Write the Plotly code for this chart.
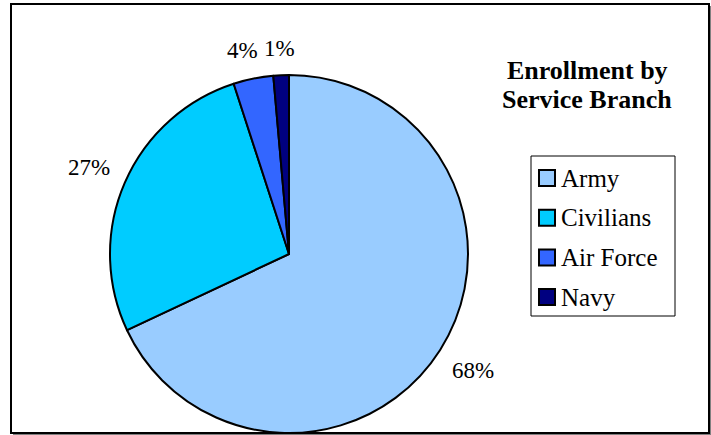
import math
import plotly.graph_objects as go

labels = ["Army", "Civilians", "Air Force", "Navy"]
values = [68.0, 27.0, 3.6, 1.4]
colors = ["#99CCFF", "#00CCFF", "#3366FF", "#000080"]
title_lines = ["Enrollment by", "Service Branch"]

W, H = 711, 435
FONT = "Liberation Serif, Times New Roman, serif"
CX, CY, R = 289, 254, 179
LBL_SIZE = 23

fig = go.Figure(go.Pie(
    labels=labels, values=values, sort=False, direction="clockwise", rotation=0,
    marker=dict(colors=colors, line=dict(color="black", width=2)),
    textinfo="none",
    domain=dict(x=[(CX - R) / W, (CX + R) / W], y=[1 - (CY + R) / H, 1 - (CY - R) / H]),
    showlegend=False, hoverinfo="label+percent",
))

shapes = [
    dict(type="rect", xref="paper", yref="paper", x0=13 / W, x1=711 / W, y0=1 - 435 / H, y1=1 - 6 / H,
         line=dict(width=0), fillcolor="#808080", layer="below"),
    dict(type="rect", xref="paper", yref="paper", x0=11 / W, x1=709 / W, y0=1 - 433 / H, y1=1 - 4 / H,
         line=dict(color="black", width=2), fillcolor="white", layer="below"),
    dict(type="rect", xref="paper", yref="paper", x0=531 / W, x1=675 / W, y0=1 - 316 / H, y1=1 - 156 / H,
         line=dict(color="black", width=1), fillcolor="white", layer="below"),
]
annotations = []
for i, line in enumerate(title_lines):
    annotations.append(dict(text="<b>" + line + "</b>", xref="paper", yref="paper",
                            x=587 / W, y=1 - (70 + i * 29) / H, showarrow=False,
                            xanchor="center", yanchor="middle",
                            font=dict(family=FONT, size=26, color="black")))

# percent labels placed just outside each slice at its mid-angle
total = sum(values)
cum = 0.0
placed = []
for v in values:
    mid = (cum + v / 2) / total * 2 * math.pi
    cum += v
    txt = f"{round(v / total * 100)}%"
    hw = LBL_SIZE * (0.5 * (len(txt) - 1) + 0.833) / 2
    hh = LBL_SIZE * 0.48
    d = R + 15 + abs(math.sin(mid)) * hw + abs(math.cos(mid)) * hh
    px = CX + d * math.sin(mid)
    py = CY - d * math.cos(mid)
    placed.append([txt, px, py, hw])
# resolve horizontal overlaps between neighbouring labels
for i in range(len(placed) - 1, 0, -1):
    a, b = placed[i - 1], placed[i]
    if abs(a[2] - b[2]) < 2 * LBL_SIZE * 0.48:
        right_a = a[1] + a[3]
        left_b = b[1] - b[3]
        if right_a > left_b - 7:
            a[1] -= right_a - (left_b - 7)
for txt, px, py, hw in placed:
    annotations.append(dict(text=txt, xref="paper", yref="paper",
                            x=px / W, y=1 - py / H, showarrow=False,
                            xanchor="center", yanchor="middle",
                            font=dict(family=FONT, size=LBL_SIZE, color="black")))

for i, (lab, col) in enumerate(zip(labels, colors)):
    yc = 178 + i * 39.7
    shapes.append(dict(type="rect", xref="paper", yref="paper",
                       x0=539 / W, x1=555 / W, y0=1 - (yc + 8) / H, y1=1 - (yc - 8) / H,
                       line=dict(color="black", width=2), fillcolor=col))
    annotations.append(dict(text=lab, xref="paper", yref="paper", x=559 / W, y=1 - yc / H,
                            showarrow=False, xanchor="left", yanchor="middle",
                            font=dict(family=FONT, size=25, color="black")))

fig.update_layout(
    width=W, height=H, margin=dict(l=0, r=0, t=0, b=0),
    paper_bgcolor="white", plot_bgcolor="white",
    shapes=shapes, annotations=annotations,
)
fig.write_html("out.html", config={"displayModeBar": False},
               post_script="document.body.style.margin='0';document.body.style.overflow='hidden';")
